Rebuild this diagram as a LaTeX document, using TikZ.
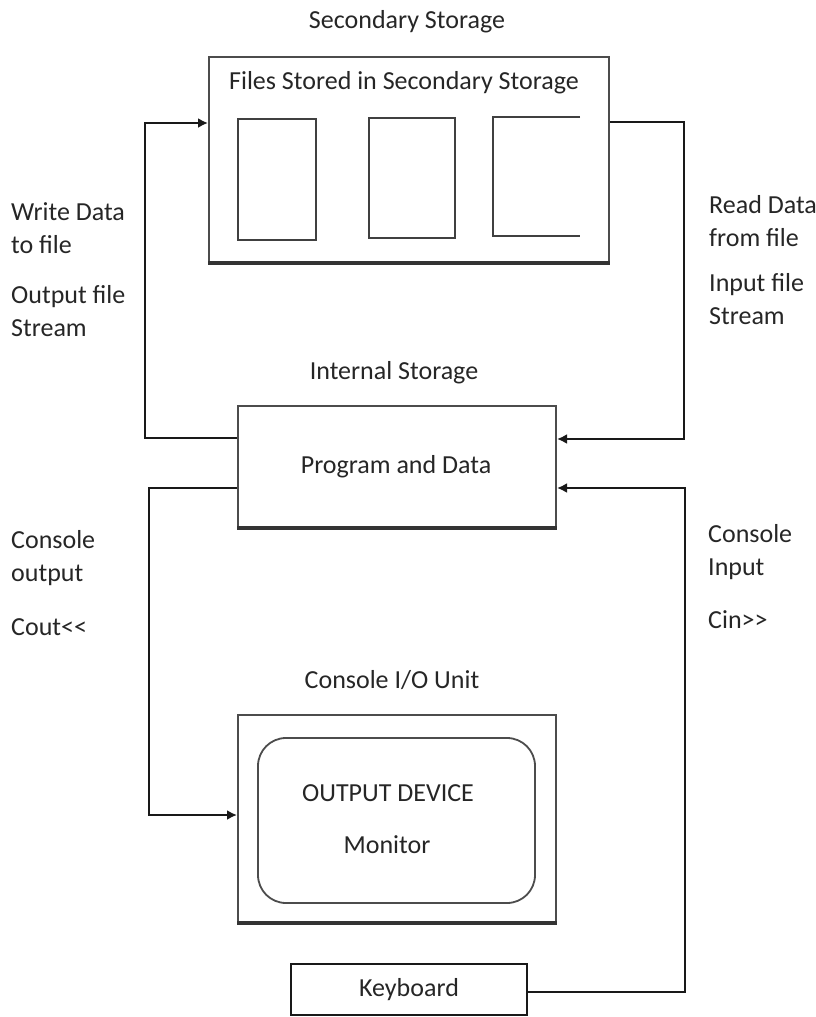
\documentclass[tikz,border=0pt]{standalone}
\usepackage{fontspec}
\setmainfont{Carlito}
\usetikzlibrary{arrows.meta}
\begin{document}
\begin{tikzpicture}[x=1pt,y=-1pt,
  txt/.style={font=\fontsize{26}{33}\selectfont, text=black!85, inner sep=0pt},
  ltxt/.style={txt, anchor=west, align=left},
  box/.style={draw=black!70, line width=2pt, rectangle, inner sep=0pt},
  filebox/.style={draw=black!75, line width=1.6pt, rectangle, inner sep=0pt},
  conn/.style={draw=black!90, line width=2.6pt},
  arr/.style={conn, -{Latex[length=10pt,width=10pt]}},
  shade/.style={draw=black!80, line width=3.5pt}
]
\useasboundingbox (0,0) rectangle (816,1017);

% Secondary storage
\node[txt] (sectitle) at (407,22) {Secondary Storage};
\node[box, minimum width=400pt, minimum height=205pt] (sec) at (409,159.5) {};
\draw[shade] (sec.south west) -- (sec.south east);
\node[txt] (filestitle) at (404,83) {Files Stored in Secondary Storage};
\node[filebox, minimum width=78pt, minimum height=121pt] (f1) at (277,179.5) {};
\node[filebox, minimum width=86pt, minimum height=120pt] (f2) at (412,178) {};
\node[minimum width=87pt, minimum height=119pt, inner sep=0pt] (f3) at (536.5,176.5) {};
\draw[black!75, line width=1.6pt] (f3.north east) -- (f3.north west) -- (f3.south west) -- (f3.south east);

% Internal storage
\node[txt] (inttitle) at (394,373) {Internal Storage};
\node[box, minimum width=318pt, minimum height=121pt] (prog) at (397,466.5) {};
\draw[shade] (prog.south west) -- (prog.south east);
\node[txt] (progtxt) at (396,467) {Program and Data};

% Console I/O unit
\node[txt] (contitle) at (392,680) {Console I/O Unit};
\node[box, minimum width=318pt, minimum height=207pt] (con) at (397,818.5) {};
\draw[shade] (con.south west) -- (con.south east);
\node[draw=black!70, line width=1.8pt, rounded corners=28pt, minimum width=277pt, minimum height=165pt, inner sep=0pt] (mon) at (396.5,820.5) {};
\node[txt] (outdev) at (388,793) {OUTPUT DEVICE};
\node[txt] (montxt) at (387,845) {Monitor};

% Keyboard
\node[box, draw=black!90, minimum width=236pt, minimum height=51pt] (kb) at (409,989.5) {};
\node[txt] (kbtxt) at (409,990) {Keyboard};

% Side labels
\node[ltxt] (w1) at (11,228) {Write Data\\to file};
\node[ltxt] (w2) at (11,311) {Output file\\Stream};
\node[ltxt] (r1) at (709,221) {Read Data\\from file};
\node[ltxt] (r2) at (709,299) {Input file\\Stream};
\node[ltxt] (c1) at (11,558) {Console\\output};
\node[ltxt] (c2) at (11,627) {Cout<\kern0pt<};
\node[ltxt] (i1) at (708,552) {Console\\Input};
\node[ltxt] (i2) at (708,620) {Cin>\kern0pt>};

% Connectors
\draw[arr] ([yshift=28.5pt]prog.west) -- (145,438) -- (145,123) -- ([yshift=36.5pt]sec.west);
\draw[arr] ([yshift=37.5pt]sec.east) -- (684,122) -- (684,439) -- ([yshift=27.5pt]prog.east);
\draw[arr] ([yshift=-21.5pt]prog.west) -- (149,488) -- (149,815) -- ([yshift=3.5pt]con.west);
\draw[arr] ([yshift=-2.5pt]kb.east) -- (685,992) -- (685,488) -- ([yshift=-21.5pt]prog.east);
\end{tikzpicture}
\end{document}
